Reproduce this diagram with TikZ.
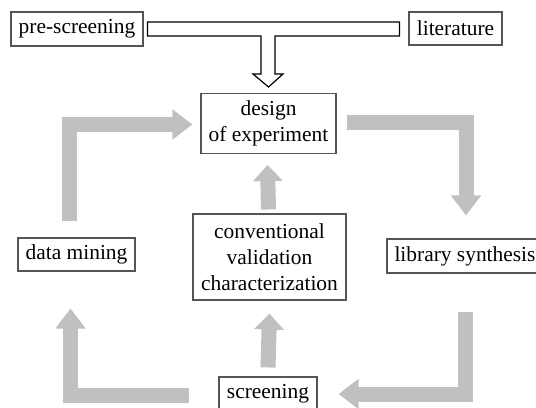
\documentclass[tikz,border=0pt]{standalone}
\usepackage{fontspec}
\setmainfont{Liberation Serif}
\usetikzlibrary{arrows.meta,calc}
\definecolor{flowgray}{RGB}{192,192,192}
\definecolor{boxline}{RGB}{85,85,85}
\tikzset{
  box/.style={draw=boxline, line width=1.1bp, inner sep=0pt, align=center,
    font=\fontsize{21.5}{26}\selectfont, text=black},
  flow/.style={draw=flowgray, line width=15bp, line join=miter,
    -{Triangle[width=29bp,length=20bp]}},
  flowshort/.style={draw=flowgray, line width=15bp,
    -{Triangle[width=29bp,length=16bp]}},
  hollow/.style={draw=black, line width=1.2bp, fill=white, line join=miter}
}
\begin{document}
\begin{tikzpicture}[x=1bp,y=-1bp]
\clip (0,0) rectangle (536,407);
\fill[white] (0,0) rectangle (536,407);
% nodes
\node[box, minimum width=132bp, minimum height=34bp] (pre) at (77,29) {pre-screening};
\node[box, minimum width=93bp, minimum height=33bp] (lit) at (455.5,28.5) {literature};
\node[box, minimum width=135bp, minimum height=60bp] (design) at (268.5,123.5) {design\\of experiment};
\node[box, minimum width=153bp, minimum height=86bp] (conv) at (269.5,257) {conventional\\validation\\characterization};
\node[box, minimum width=117bp, minimum height=33bp] (data) at (76.5,254.5) {data mining};
\node[box, minimum width=156bp, minimum height=34bp] (lib) at (465,256) {library synthesis};
\node[box, minimum width=98bp, minimum height=34bp] (screen) at (268,394) {screening};
% hollow T-arrow from pre-screening and literature into design
\coordinate (hl) at ([xshift=4bp]pre.east);
\coordinate (hr) at ([xshift=-9bp]lit.west);
\draw[hollow] (hl |- 0,22) -- (hr |- 0,22) -- (hr |- 0,36) -- (275,36) -- (275,74)
  -- (283,74) -- (design.north |- 0,87) -- (253,74) -- (261,74) -- (261,36)
  -- (hl |- 0,36) -- cycle;
% gray loop arrows
\draw[flow] ([xshift=-7bp,yshift=16bp]data.north) |- ([xshift=-8bp,yshift=-1bp]design.west);
\draw[flow] ([xshift=10bp,yshift=1.5bp]design.east) -| ([xshift=1bp,yshift=23bp]lib.north);
\draw[flow] ([yshift=-38bp]lib.south) |- ([xshift=21bp]screen.east);
\draw[flow] ([xshift=-29bp,yshift=-1.5bp]screen.west) -| ([xshift=-6bp,yshift=-37bp]data.south);
\draw[flowshort] ([xshift=-1bp,yshift=4bp]conv.north) -- ([xshift=-1bp,yshift=-11bp]design.south);
\draw[flowshort] ([yshift=9bp]screen.north) -- ([yshift=-13bp]conv.south);
\end{tikzpicture}
\end{document}
